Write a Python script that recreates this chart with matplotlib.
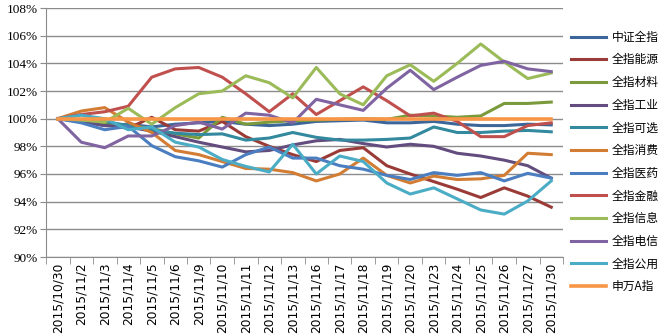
import matplotlib
matplotlib.use("Agg")
import matplotlib.pyplot as plt
import numpy as np

dates = ["2015/10/30", "2015/11/2", "2015/11/3", "2015/11/4", "2015/11/5", "2015/11/6",
         "2015/11/9", "2015/11/10", "2015/11/11", "2015/11/12", "2015/11/13", "2015/11/16",
         "2015/11/17", "2015/11/18", "2015/11/19", "2015/11/20", "2015/11/23", "2015/11/24",
         "2015/11/25", "2015/11/26", "2015/11/27", "2015/11/30"]

csi_all = [100, 99.8, 99.5, 99.6, 99.4, 99.6, 99.7, 99.8, 99.6, 99.5, 99.6, 99.8,
           99.85, 99.9, 99.7, 99.7, 99.8, 99.6, 99.5, 99.5, 99.6, 99.55]
energy = [100, 99.9, 99.6, 99.3, 100.1, 99.2, 99.1, 99.8, 98.7, 98.0, 97.4, 96.9,
          97.7, 97.9, 96.6, 96.0, 95.45, 94.9, 94.3, 95.0, 94.4, 93.6]
materials = [100, 99.8, 99.7, 99.5, 99.3, 98.9, 98.6, 100.1, 99.6, 99.75, 99.85, 99.9,
             99.95, 100.0, 99.95, 100.25, 100.2, 100.1, 100.2, 101.1, 101.1, 101.2]
industrials = [100, 99.8, 99.5, 99.4, 99.1, 98.7, 98.3, 97.95, 97.6, 97.7, 98.1, 98.4,
               98.5, 98.2, 97.95, 98.15, 98.0, 97.5, 97.3, 97.0, 96.6, 95.7]
cons_disc = [100, 99.9, 99.8, 99.5, 99.2, 98.95, 98.85, 98.9, 98.45, 98.6, 99.0, 98.65,
             98.45, 98.45, 98.5, 98.6, 99.4, 99.0, 99.0, 99.1, 99.15, 99.05]
cons_staples = [100, 100.55, 100.8, 99.75, 99.0, 97.7, 97.4, 96.9, 96.4, 96.35, 96.1, 95.5,
                96.0, 97.15, 95.9, 95.35, 95.85, 95.6, 95.65, 95.9, 97.5, 97.4]
health = [100, 99.7, 99.2, 99.45, 98.05, 97.25, 96.95, 96.5, 97.4, 97.95, 97.15, 97.15,
          96.6, 96.35, 95.9, 95.6, 96.1, 95.9, 96.1, 95.5, 96.05, 95.7]
financials = [100, 100.3, 100.5, 100.9, 103.0, 103.6, 103.7, 103.0, 101.8, 100.5, 101.8, 100.3,
              101.3, 102.3, 101.3, 100.2, 100.4, 99.8, 98.7, 98.7, 99.5, 99.7]
infotech = [100, 99.9, 99.75, 100.75, 99.6, 100.8, 101.8, 102.0, 103.1, 102.6, 101.5, 103.7,
            101.8, 101.0, 103.1, 103.9, 102.7, 104.0, 105.4, 104.1, 102.9, 103.3]
telecom = [100, 98.3, 97.9, 98.75, 98.75, 99.5, 99.75, 99.25, 100.4, 100.25, 99.7, 101.4,
           101.0, 100.6, 102.2, 103.5, 102.1, 103.0, 103.85, 104.15, 103.6, 103.4]
utilities = [100, 100.25, 100.0, 99.2, 99.4, 98.3, 97.95, 97.05, 96.55, 96.15, 98.15, 96.0,
             97.3, 96.9, 95.35, 94.55, 95.0, 94.2, 93.4, 93.1, 94.05, 95.5]
sw_a = [100] * 22

series_names = ["中证全指", "全指能源", "全指材料", "全指工业", "全指可选", "全指消费",
                "全指医药", "全指金融", "全指信息", "全指电信", "全指公用", "申万A指"]
series_values = [csi_all, energy, materials, industrials, cons_disc, cons_staples,
                 health, financials, infotech, telecom, utilities, sw_a]
colors = ["#3C669A", "#9A3B38", "#7A9A3C", "#634D7E", "#33899E", "#D27D33",
          "#4A7EC0", "#C0504D", "#9BBB59", "#8064A2", "#4BACC6", "#F79646"]

y_ticks = [90, 92, 94, 96, 98, 100, 102, 104, 106, 108]

fig = plt.figure(figsize=(6.69, 3.34), dpi=100)
ax = fig.add_axes([46 / 669, 1 - 257 / 334, (563 - 46) / 669, (257 - 8) / 334])

x = np.arange(len(dates))
for name, vals, c in zip(series_names, series_values, colors):
    lw = 2.6 if name == "申万A指" else 2.2
    ax.plot(x, vals, color=c, lw=lw, label=name, solid_joinstyle="round")

ax.set_xlim(-0.5, len(dates) - 0.5)
ax.set_ylim(90, 108)
ax.set_yticks(y_ticks)
ax.set_yticklabels([f"{t}%" for t in y_ticks], family="Liberation Serif", fontsize=9.5)
ax.yaxis.grid(True, color="#8C8C8C", lw=1)
ax.set_axisbelow(True)
ax.set_xticks(x)
ax.set_xticklabels(dates, rotation=90, fontsize=8.8, family="DejaVu Sans")
ax.set_xticks(np.arange(-0.5, len(dates), 1), minor=True)
ax.tick_params(axis="x", which="major", length=0, pad=4)
ax.tick_params(axis="x", which="minor", length=5, color="#8C8C8C")
ax.tick_params(axis="y", length=4, color="#8C8C8C", pad=2)
for s in ["top", "right"]:
    ax.spines[s].set_visible(False)
for s in ["left", "bottom"]:
    ax.spines[s].set_color("#8C8C8C")

leg = fig.legend(loc="upper left", bbox_to_anchor=(566 / 669, 1 - 26 / 334),
                 frameon=False, prop={"family": ["Noto Sans CJK SC", "DejaVu Sans"], "size": 8.5},
                 handlelength=3.0, handletextpad=0.5, labelspacing=0.82, borderaxespad=0)

fig.savefig("out.png", dpi=100)
